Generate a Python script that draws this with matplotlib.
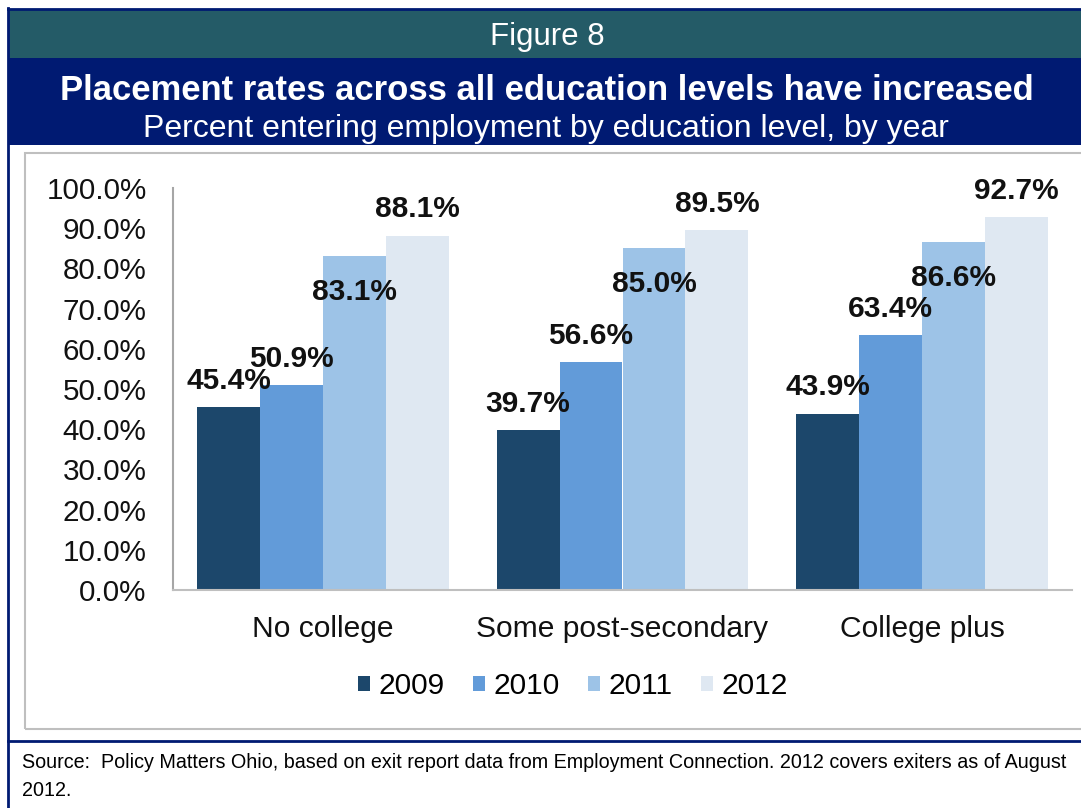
import numpy as np
import matplotlib
matplotlib.use("Agg")
import matplotlib.pyplot as plt
from matplotlib.patches import Rectangle
from matplotlib.lines import Line2D

plt.rcParams['font.family'] = ['Liberation Sans', 'DejaVu Sans']

categories = ['No college', 'Some post-secondary', 'College plus']
years = ['2009', '2010', '2011', '2012']
rate_2009 = [45.4, 39.7, 43.9]
rate_2010 = [50.9, 56.6, 63.4]
rate_2011 = [83.1, 85.0, 86.6]
rate_2012 = [88.1, 89.5, 92.7]
series = [rate_2009, rate_2010, rate_2011, rate_2012]
colors = ['#1c476b', '#629bd9', '#9dc3e7', '#dfe8f2']
yticks = np.arange(0, 101, 10)

W, H = 1081, 808
fig = plt.figure(figsize=(W / 100, H / 100), dpi=100)
fig.patch.set_facecolor('white')


def box(x0, y0, x1, y1, **kw):
    # pixel box (top-left origin) -> figure fraction rectangle
    fig.patches.append(Rectangle((x0 / W, 1 - y1 / H), (x1 - x0) / W, (y1 - y0) / H,
                                 transform=fig.transFigure, figure=fig, **kw))


def hline(x0, x1, y, **kw):
    fig.lines.append(Line2D([x0 / W, x1 / W], [1 - y / H, 1 - y / H],
                            transform=fig.transFigure, figure=fig, **kw))


def vline(x, y0, y1, **kw):
    fig.lines.append(Line2D([x / W, x / W], [1 - y0 / H, 1 - y1 / H],
                            transform=fig.transFigure, figure=fig, **kw))


navy = '#001a72'
teal = '#245b67'

# header bands
box(8, 9, W, 58, facecolor=teal, edgecolor='none')
box(8, 58, W, 145, facecolor=navy, edgecolor='none')
hline(8, W, 9, color=navy, lw=2)
vline(8, 8, H, color=navy, lw=2)
# chart frame and source separator
box(25, 153, W + 10, 729, facecolor='none', edgecolor='#bfbfbf', lw=1.5)
hline(8, W, 741, color=navy, lw=2)

fig.text(547 / W, 1 - 37 / H, 'Figure 8', color='white', fontsize=22.5,
         ha='center', va='center')
fig.text(547 / W, 1 - 90 / H, 'Placement rates across all education levels have increased',
         color='white', fontsize=24.9, fontweight='bold', ha='center', va='center')
fig.text(546 / W, 1 - 129 / H, 'Percent entering employment by education level, by year',
         color='white', fontsize=23, ha='center', va='center')
fig.text(22 / W, 1 - 763 / H,
         'Source:  Policy Matters Ohio, based on exit report data from Employment Connection. 2012 covers exiters as of August',
         fontsize=14.2, ha='left', va='center')
fig.text(22 / W, 1 - 791 / H, '2012.', fontsize=14.2, ha='left', va='center')

# plot area
ax = fig.add_axes([173 / W, 1 - 590 / H, (1072 - 173) / W, (590 - 188) / H])
x = np.arange(len(categories))
width = 0.21
offsets = (np.arange(4) - 1.5) * width
for i, (vals, yr) in enumerate(zip(series, years)):
    bars = ax.bar(x + offsets[i], vals, width, color=colors[i], label=yr, zorder=2)
    for b, v in zip(bars, vals):
        dy = -26 if yr == '2011' else 19
        ax.annotate(f'{v:.1f}%', (b.get_x() + b.get_width() / 2, v),
                    xytext=(0, dy), textcoords='offset points',
                    ha='center', va='center', fontsize=21.5, fontweight='bold',
                    color='#111111', zorder=3)

ax.set_xlim(-0.5, 2.5)
ax.set_ylim(0, 100)
ax.set_yticks(yticks)
ax.set_yticklabels([f'{t:.1f}%' for t in yticks])
ax.set_xticks(x)
ax.set_xticklabels(categories)
ax.tick_params(axis='y', length=0, pad=19, labelsize=21.3, labelcolor='#111111')
ax.tick_params(axis='x', length=0, pad=18, labelsize=21.6, labelcolor='#111111')
for s in ['top', 'right']:
    ax.spines[s].set_visible(False)
ax.spines['left'].set_color('#a6a6a6')
ax.spines['bottom'].set_color('#bfbfbf')
ax.spines['left'].set_linewidth(1.5)
ax.spines['bottom'].set_linewidth(1.5)
ax.set_facecolor('none')

fig.legend(loc='center', bbox_to_anchor=(573 / W, 1 - 686 / H), ncol=4, frameon=False,
           fontsize=21.5, handlelength=0.4, handleheight=0.4, handletextpad=0.28,
           columnspacing=0.95, borderaxespad=0)

fig.savefig('out.png', dpi=100)
